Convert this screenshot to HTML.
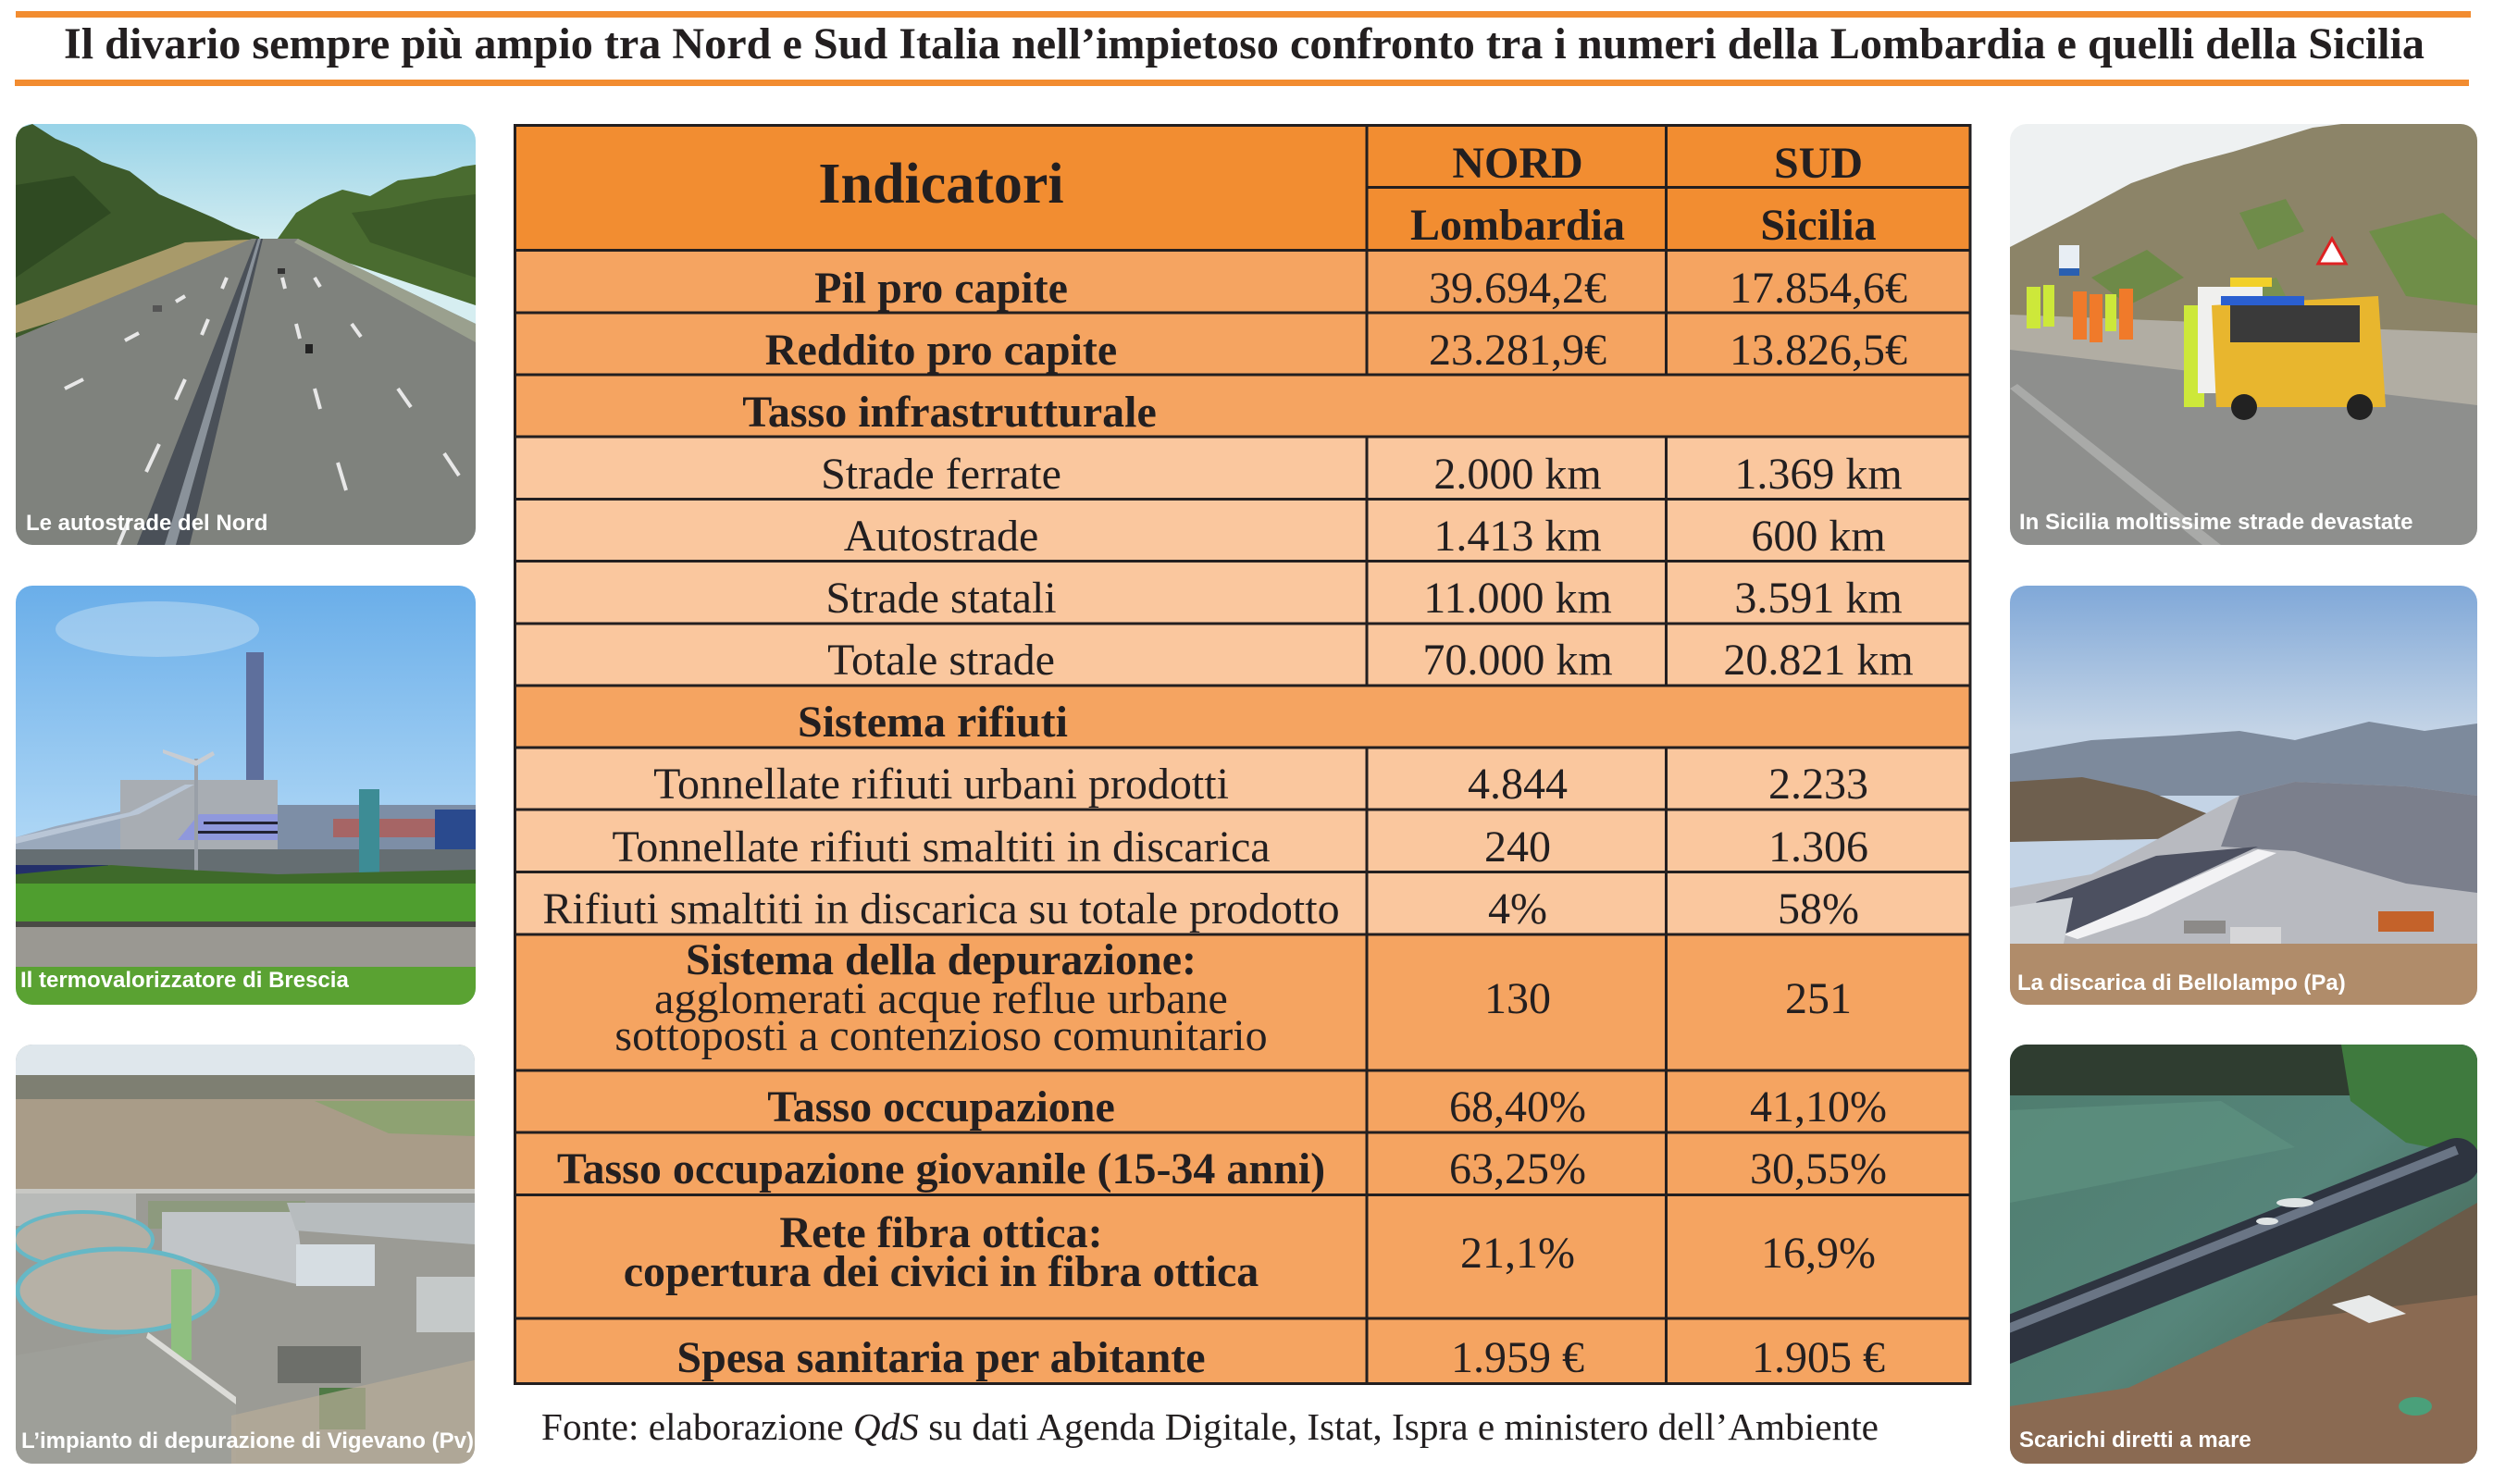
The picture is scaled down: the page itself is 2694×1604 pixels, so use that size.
<!DOCTYPE html>
<html>
<head>
<meta charset="utf-8">
<style>
html,body{margin:0;padding:0;background:#fff;}
body{width:2694px;height:1604px;overflow:hidden;}
svg{display:block;}
.t{font-family:"Liberation Serif","DejaVu Serif",serif;fill:#231f20;}
.b{font-weight:bold;}
.cap{font-family:"Liberation Sans","DejaVu Sans",sans-serif;font-weight:bold;font-size:24px;fill:#fff;}
</style>
</head>
<body>
<svg width="2694" height="1604" viewBox="0 0 2694 1604" xmlns="http://www.w3.org/2000/svg">
<defs>
  <clipPath id="c1"><rect x="17" y="134" width="497" height="455" rx="18"/></clipPath>
  <clipPath id="c2"><rect x="17" y="633" width="497" height="453" rx="18"/></clipPath>
  <clipPath id="c3"><rect x="17" y="1129" width="496" height="453" rx="18"/></clipPath>
  <clipPath id="c4"><rect x="2172" y="134" width="505" height="455" rx="18"/></clipPath>
  <clipPath id="c5"><rect x="2172" y="633" width="505" height="453" rx="18"/></clipPath>
  <clipPath id="c6"><rect x="2172" y="1129" width="505" height="453" rx="18"/></clipPath>
  <linearGradient id="sky1" x1="0" y1="0" x2="0" y2="1">
    <stop offset="0" stop-color="#98d3e8"/><stop offset="0.3" stop-color="#d6eef1"/><stop offset="1" stop-color="#d6eef1"/>
  </linearGradient>
  <linearGradient id="sky2" x1="0" y1="0" x2="0" y2="1">
    <stop offset="0" stop-color="#6aaee9"/><stop offset="0.65" stop-color="#b2d9f6"/><stop offset="1" stop-color="#b2d9f6"/>
  </linearGradient>
  <linearGradient id="sky5" x1="0" y1="0" x2="0" y2="1">
    <stop offset="0" stop-color="#80a8d8"/><stop offset="0.35" stop-color="#c4d4e6"/><stop offset="1" stop-color="#c4d4e6"/>
  </linearGradient>
  <linearGradient id="water" x1="0" y1="0" x2="1" y2="1">
    <stop offset="0" stop-color="#4e7c6e"/><stop offset="0.5" stop-color="#56857a"/><stop offset="1" stop-color="#3e5a48"/>
  </linearGradient>
</defs>

<!-- Title bars -->
<rect x="17" y="12" width="2653" height="7" fill="#f28c30"/>
<rect x="16" y="86" width="2652" height="7" fill="#f28c30"/>
<text class="t b" x="69" y="63" font-size="48" textLength="2551" lengthAdjust="spacingAndGlyphs">Il divario sempre più ampio tra Nord e Sud Italia nell’impietoso confronto tra i numeri della Lombardia e quelli della Sicilia</text>

<!-- TABLE fills -->
<rect x="557" y="136" width="1572" height="135" fill="#f28d31"/>
<rect x="557" y="270" width="1572" height="202" fill="#f5a461"/>
<rect x="557" y="472" width="1572" height="269" fill="#fac79e"/>
<rect x="557" y="741" width="1572" height="67" fill="#f5a461"/>
<rect x="557" y="808" width="1572" height="202" fill="#fac79e"/>
<rect x="557" y="1010" width="1572" height="486" fill="#f5a461"/>

<!-- TABLE lines -->
<g stroke="#231f20" stroke-width="3" fill="none">
  <line x1="556" y1="135.5" x2="2130" y2="135.5"/>
  <line x1="1477" y1="202.5" x2="2129" y2="202.5"/>
  <line x1="556" y1="270.5" x2="2130" y2="270.5"/>
  <line x1="556" y1="338" x2="2130" y2="338"/>
  <line x1="556" y1="405" x2="2130" y2="405"/>
  <line x1="556" y1="472" x2="2130" y2="472"/>
  <line x1="556" y1="539.5" x2="2130" y2="539.5"/>
  <line x1="556" y1="606.5" x2="2130" y2="606.5"/>
  <line x1="556" y1="674" x2="2130" y2="674"/>
  <line x1="556" y1="741" x2="2130" y2="741"/>
  <line x1="556" y1="808" x2="2130" y2="808"/>
  <line x1="556" y1="875" x2="2130" y2="875"/>
  <line x1="556" y1="942.5" x2="2130" y2="942.5"/>
  <line x1="556" y1="1010" x2="2130" y2="1010"/>
  <line x1="556" y1="1157" x2="2130" y2="1157"/>
  <line x1="556" y1="1224" x2="2130" y2="1224"/>
  <line x1="556" y1="1291.5" x2="2130" y2="1291.5"/>
  <line x1="556" y1="1425" x2="2130" y2="1425"/>
  <line x1="556" y1="1495.5" x2="2130" y2="1495.5"/>
  <line x1="556.5" y1="134" x2="556.5" y2="1497"/>
  <line x1="2129" y1="134" x2="2129" y2="1497"/>
  <line x1="1477" y1="135" x2="1477" y2="405"/>
  <line x1="1800.5" y1="135" x2="1800.5" y2="405"/>
  <line x1="1477" y1="472" x2="1477" y2="741"/>
  <line x1="1800.5" y1="472" x2="1800.5" y2="741"/>
  <line x1="1477" y1="808" x2="1477" y2="1496"/>
  <line x1="1800.5" y1="808" x2="1800.5" y2="1496"/>
</g>

<!-- TABLE text -->
<g class="t" font-size="48" text-anchor="middle">
  <text class="b" x="1017" y="219" font-size="62">Indicatori</text>
  <text class="b" x="1640" y="192">NORD</text>
  <text class="b" x="1965" y="192">SUD</text>
  <text class="b" x="1640" y="259">Lombardia</text>
  <text class="b" x="1965" y="259">Sicilia</text>

  <text class="b" x="1017" y="327">Pil pro capite</text>
  <text x="1640" y="327">39.694,2€</text>
  <text x="1965" y="327">17.854,6€</text>

  <text class="b" x="1017" y="394">Reddito pro capite</text>
  <text x="1640" y="394">23.281,9€</text>
  <text x="1965" y="394">13.826,5€</text>

  <text class="b" x="1026" y="461">Tasso infrastrutturale</text>

  <text x="1017" y="528">Strade ferrate</text>
  <text x="1640" y="528">2.000 km</text>
  <text x="1965" y="528">1.369 km</text>

  <text x="1017" y="595">Autostrade</text>
  <text x="1640" y="595">1.413 km</text>
  <text x="1965" y="595">600 km</text>

  <text x="1017" y="662">Strade statali</text>
  <text x="1640" y="662">11.000 km</text>
  <text x="1965" y="662">3.591 km</text>

  <text x="1017" y="729">Totale strade</text>
  <text x="1640" y="729">70.000 km</text>
  <text x="1965" y="729">20.821 km</text>

  <text class="b" x="1008" y="796">Sistema rifiuti</text>

  <text x="1017" y="863">Tonnellate rifiuti urbani prodotti</text>
  <text x="1640" y="863">4.844</text>
  <text x="1965" y="863">2.233</text>

  <text x="1017" y="931">Tonnellate rifiuti smaltiti in discarica</text>
  <text x="1640" y="931">240</text>
  <text x="1965" y="931">1.306</text>

  <text x="1017" y="998">Rifiuti smaltiti in discarica su totale prodotto</text>
  <text x="1640" y="998">4%</text>
  <text x="1965" y="998">58%</text>

  <text class="b" x="1017" y="1053">Sistema della depurazione:</text>
  <text x="1017" y="1095">agglomerati acque reflue urbane</text>
  <text x="1017" y="1135">sottoposti a contenzioso comunitario</text>
  <text x="1640" y="1095">130</text>
  <text x="1965" y="1095">251</text>

  <text class="b" x="1017" y="1212">Tasso occupazione</text>
  <text x="1640" y="1212">68,40%</text>
  <text x="1965" y="1212">41,10%</text>

  <text class="b" x="1017" y="1279">Tasso occupazione giovanile (15-34 anni)</text>
  <text x="1640" y="1279">63,25%</text>
  <text x="1965" y="1279">30,55%</text>

  <text class="b" x="1017" y="1348">Rete fibra ottica:</text>
  <text class="b" x="1017" y="1390">copertura dei civici in fibra ottica</text>
  <text x="1640" y="1370">21,1%</text>
  <text x="1965" y="1370">16,9%</text>

  <text class="b" x="1017" y="1483">Spesa sanitaria per abitante</text>
  <text x="1640" y="1483">1.959 €</text>
  <text x="1965" y="1483">1.905 €</text>
</g>

<text class="t" x="585" y="1556" font-size="41" textLength="1445" lengthAdjust="spacingAndGlyphs">Fonte: elaborazione <tspan font-style="italic">QdS</tspan> su dati Agenda Digitale, Istat, Ispra e ministero dell’Ambiente</text>

<!-- PHOTO 1: highway -->
<g clip-path="url(#c1)">
  <rect x="17" y="134" width="497" height="455" fill="url(#sky1)"/>
  <path d="M17 140 L35 134 L60 150 L85 160 L110 175 L140 185 L172 210 L200 222 L230 235 L255 247 L280 256 L285 275 L17 368 Z" fill="#3d5a2b"/>
  <path d="M17 200 L80 190 L120 230 L17 300 Z" fill="#2f4a22"/>
  <path d="M300 258 L320 230 L345 215 L370 205 L400 212 L430 195 L470 190 L500 180 L514 178 L514 330 L310 262 Z" fill="#4a6c30"/>
  <path d="M380 230 L420 225 L470 215 L514 210 L514 300 L400 262 Z" fill="#3c5a28"/>
  <path d="M200 262 L290 258 L240 290 L17 360 L17 330 Z" fill="#a89a6a"/>
  <path d="M272 258 L322 258 L514 350 L514 589 L17 589 L17 365 Z" fill="#7f827d"/>
  <path d="M322 258 L514 350 L514 370 L318 262 Z" fill="#9aa08e"/>
  <path d="M277 258 L284 258 L205 589 L148 589 Z" fill="#4a5058"/>
  <path d="M279 258 L282 258 L190 589 L178 589 Z" fill="#8a929a"/>
  <g stroke="#e8e8e8" stroke-width="4">
    <line x1="245" y1="300" x2="240" y2="312"/><line x1="225" y1="345" x2="218" y2="362"/><line x1="200" y1="410" x2="190" y2="432"/>
    <line x1="172" y1="480" x2="158" y2="510"/><line x1="140" y1="560" x2="128" y2="589"/>
    <line x1="305" y1="300" x2="308" y2="312"/><line x1="320" y1="350" x2="324" y2="366"/><line x1="340" y1="420" x2="346" y2="442"/><line x1="365" y1="500" x2="374" y2="530"/>
    <line x1="340" y1="300" x2="346" y2="310"/><line x1="380" y1="350" x2="390" y2="364"/><line x1="430" y1="420" x2="444" y2="440"/><line x1="480" y1="490" x2="496" y2="514"/>
    <line x1="200" y1="320" x2="190" y2="326"/><line x1="150" y1="360" x2="135" y2="368"/><line x1="90" y1="410" x2="70" y2="420"/>
  </g>
  <rect x="300" y="290" width="8" height="6" fill="#333"/>
  <rect x="330" y="372" width="8" height="10" fill="#222"/>
  <rect x="165" y="330" width="10" height="7" fill="#555"/>
  <text class="cap" x="28" y="573">Le autostrade del Nord</text>
</g>

<!-- PHOTO 2: termovalorizzatore -->
<g clip-path="url(#c2)">
  <rect x="17" y="633" width="497" height="453" fill="url(#sky2)"/>
  <ellipse cx="170" cy="680" rx="110" ry="30" fill="#d6e8f6" opacity="0.4"/>
  <rect x="266" y="705" width="19" height="148" fill="#5e6f9c"/>
  <path d="M17 905 L60 893 L140 875 L200 846 L300 846 L300 925 L17 925 Z" fill="#9aa9bc"/>
  <rect x="130" y="843" width="170" height="80" fill="#a8adb3"/>
  <path d="M17 905 L140 878 L200 848 L210 848 L150 880 L17 912 Z" fill="#b9c6d6"/>
  <path d="M192 908 L215 880 L330 880 L355 908 Z" fill="#8f98dc"/>
  <rect x="220" y="888" width="100" height="3" fill="#223"/>
  <rect x="210" y="898" width="125" height="3" fill="#223"/>
  <rect x="300" y="870" width="214" height="55" fill="#7d8ea6"/>
  <rect x="360" y="885" width="154" height="20" fill="#c24a3a" opacity="0.6"/>
  <rect x="470" y="875" width="44" height="50" fill="#2a4a8e"/>
  <rect x="17" y="918" width="497" height="30" fill="#656e72"/>
  <rect x="17" y="935" width="100" height="25" fill="#24306a"/>
  <line x1="212" y1="820" x2="212" y2="945" stroke="#9aa0a8" stroke-width="4"/>
  <path d="M176 810 L212 822 L230 812 L232 816 L212 828 L176 814 Z" fill="#c8ccd2"/>
  <rect x="388" y="853" width="22" height="105" fill="#3d8c95"/>
  <path d="M17 945 L120 935 L200 940 L300 945 L514 940 L514 960 L17 960 Z" fill="#3e6a2a"/>
  <rect x="17" y="955" width="497" height="42" fill="#4f9e2f"/>
  <rect x="17" y="996" width="497" height="6" fill="#4a4a45"/>
  <rect x="17" y="1002" width="497" height="43" fill="#9a9892"/>
  <rect x="17" y="1045" width="497" height="41" fill="#5aa232"/>
  <text class="cap" x="22" y="1067">Il termovalorizzatore di Brescia</text>
</g>

<!-- PHOTO 3: depurazione -->
<g clip-path="url(#c3)">
  <rect x="17" y="1129" width="496" height="453" fill="#9b9b95"/>
  <rect x="17" y="1129" width="496" height="38" fill="#dfe7ec"/>
  <rect x="17" y="1162" width="496" height="30" fill="#7e7f72"/>
  <rect x="17" y="1188" width="496" height="102" fill="#a99c88"/>
  <path d="M340 1190 L513 1190 L513 1228 L420 1225 Z" fill="#8ea272"/>
  <rect x="17" y="1285" width="496" height="5" fill="#c8c8c4"/>
  <rect x="17" y="1290" width="130" height="35" fill="#b8bab8"/>
  <rect x="160" y="1298" width="170" height="30" fill="#8d9a7e"/>
  <path d="M175 1310 L320 1310 L330 1390 L175 1355 Z" fill="#c1c5c8"/>
  <path d="M310 1300 L513 1300 L513 1345 L320 1330 Z" fill="#b7bcbe"/>
  <rect x="320" y="1345" width="85" height="45" fill="#d6dde2"/>
  <ellipse cx="90" cy="1340" rx="75" ry="30" fill="#b4afa4" stroke="#66b8c6" stroke-width="4"/>
  <ellipse cx="127" cy="1395" rx="108" ry="45" fill="#b6b1a6" stroke="#66b8c6" stroke-width="5"/>
  <rect x="185" y="1372" width="22" height="98" fill="#8fbf80"/>
  <rect x="450" y="1380" width="63" height="60" fill="#c5c9c9"/>
  <path d="M17 1465 L160 1440 L255 1510 L255 1582 L17 1582 Z" fill="#9e9f99"/>
  <path d="M160 1440 L255 1510 L255 1518 L158 1446 Z" fill="#dcdcd8"/>
  <rect x="300" y="1455" width="90" height="40" fill="#6d6f6a"/>
  <rect x="345" y="1500" width="50" height="45" fill="#4f7a45"/>
  <path d="M250 1530 L513 1470 L513 1582 L250 1582 Z" fill="#b8ad98" opacity="0.7"/>
  <text class="cap" x="23" y="1565">L’impianto di depurazione di Vigevano (Pv)</text>
</g>

<!-- PHOTO R1: strade Sicilia -->
<g clip-path="url(#c4)">
  <rect x="2172" y="134" width="505" height="455" fill="#eef1f2"/>
  <path d="M2172 267 L2240 232 L2303 198 L2360 178 L2413 164 L2499 138 L2530 134 L2677 134 L2677 420 L2172 385 Z" fill="#8c8468"/>
  <path d="M2260 300 L2320 270 L2360 300 L2300 330 Z" fill="#6e8a48"/>
  <path d="M2420 230 L2470 215 L2490 250 L2440 270 Z" fill="#6f8c4a"/>
  <path d="M2560 250 L2640 230 L2677 260 L2677 330 L2600 320 Z" fill="#6f8e48"/>
  <path d="M2380 320 L2460 300 L2480 340 L2400 350 Z" fill="#7a9150"/>
  <path d="M2172 340 L2677 360 L2677 440 L2172 380 Z" fill="#b1ada3"/>
  <path d="M2172 378 L2677 438 L2677 589 L2172 589 Z" fill="#8e8f8d"/>
  <path d="M2172 420 L2380 589 L2400 589 L2180 415 Z" fill="#a9aaa8"/>
  <rect x="2225" y="265" width="22" height="30" fill="#e8eef4"/>
  <rect x="2225" y="290" width="22" height="8" fill="#2a5fb0"/>
  <rect x="2190" y="310" width="15" height="45" fill="#cde83a"/>
  <rect x="2208" y="308" width="12" height="45" fill="#cde83a"/>
  <rect x="2240" y="315" width="15" height="52" fill="#f07a2a"/>
  <rect x="2258" y="318" width="14" height="52" fill="#f07a2a"/>
  <rect x="2275" y="318" width="12" height="40" fill="#cde83a"/>
  <rect x="2290" y="312" width="15" height="55" fill="#f07a2a"/>
  <rect x="2360" y="330" width="22" height="110" fill="#cde83a"/>
  <rect x="2375" y="310" width="70" height="115" fill="#f0f0ee"/>
  <path d="M2390 330 L2570 320 L2578 440 L2395 440 Z" fill="#e8b62e"/>
  <rect x="2410" y="330" width="140" height="40" fill="#3a3a3a"/>
  <rect x="2400" y="320" width="90" height="10" fill="#2a5fd0"/>
  <path d="M2505 285 L2520 258 L2535 285 Z" fill="#fff" stroke="#d22" stroke-width="3"/>
  <rect x="2410" y="300" width="45" height="10" fill="#f2d02a"/>
  <circle cx="2425" cy="440" r="14" fill="#222"/>
  <circle cx="2550" cy="440" r="14" fill="#222"/>
  <text class="cap" x="2182" y="572">In Sicilia moltissime strade devastate</text>
</g>

<!-- PHOTO R2: discarica -->
<g clip-path="url(#c5)">
  <rect x="2172" y="633" width="505" height="453" fill="url(#sky5)"/>
  <path d="M2172 815 L2260 800 L2350 795 L2420 790 L2480 800 L2560 780 L2620 790 L2677 782 L2677 860 L2172 860 Z" fill="#7d8a9c"/>
  <path d="M2172 845 L2250 840 L2320 855 L2400 885 L2420 905 L2172 910 Z" fill="#6e5f4e"/>
  <path d="M2260 945 L2420 860 L2480 845 L2600 850 L2677 860 L2677 1030 L2172 1030 L2172 960 Z" fill="#b8bac0"/>
  <path d="M2420 860 L2480 845 L2600 850 L2677 860 L2677 965 L2600 955 L2480 920 L2400 915 Z" fill="#7b7f8c"/>
  <path d="M2200 975 L2330 925 L2440 915 L2300 980 L2230 1010 Z" fill="#4c5060"/>
  <path d="M2230 1010 L2300 980 L2440 918 L2460 922 L2320 990 L2245 1015 Z" fill="#f2f2f4"/>
  <path d="M2172 980 L2240 970 L2230 1020 L2172 1020 Z" fill="#cfd3d8"/>
  <rect x="2172" y="1020" width="505" height="66" fill="#b08c6a"/>
  <rect x="2410" y="1002" width="55" height="18" fill="#d6d6d8"/>
  <rect x="2360" y="995" width="45" height="14" fill="#8c8a88"/>
  <rect x="2570" y="985" width="60" height="22" fill="#c4622a"/>
  <text class="cap" x="2180" y="1070">La discarica di Bellolampo (Pa)</text>
</g>

<!-- PHOTO R3: scarichi -->
<g clip-path="url(#c6)">
  <rect x="2172" y="1129" width="505" height="453" fill="url(#water)"/>
  <rect x="2172" y="1129" width="505" height="55" fill="#2f3d30"/>
  <path d="M2530 1129 L2677 1129 L2677 1250 L2600 1235 L2540 1190 Z" fill="#3f7a3e"/>
  <path d="M2172 1200 L2400 1190 L2480 1240 L2172 1300 Z" fill="#5e9180" opacity="0.7"/>
  <path d="M2172 1520 L2300 1500 L2450 1430 L2677 1380 L2677 1582 L2172 1582 Z" fill="#8a6a52"/>
  <path d="M2450 1430 L2677 1300 L2677 1400 Z" fill="#6a5a48"/>
  <line x1="2160" y1="1452" x2="2655" y2="1255" stroke="#2e3440" stroke-width="50" stroke-linecap="round"/>
  <line x1="2160" y1="1440" x2="2655" y2="1243" stroke="#6a7585" stroke-width="10"/>
  <path d="M2520 1410 L2560 1400 L2600 1420 L2560 1430 Z" fill="#e8eaea"/>
  <ellipse cx="2610" cy="1520" rx="18" ry="10" fill="#4aa07a"/>
  <ellipse cx="2480" cy="1300" rx="20" ry="5" fill="#dfe4e4"/>
  <ellipse cx="2450" cy="1320" rx="12" ry="4" fill="#dfe4e4"/>
  <text class="cap" x="2182" y="1564">Scarichi diretti a mare</text>
</g>
</svg>
</body>
</html>
